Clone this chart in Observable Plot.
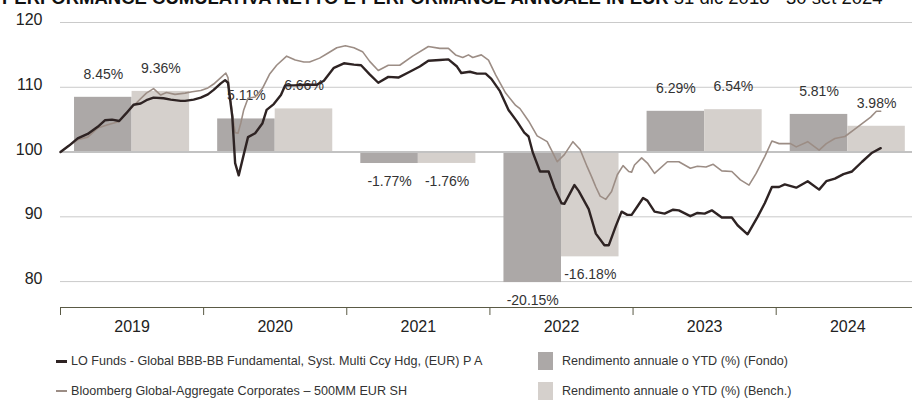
<!DOCTYPE html>
<html>
<head>
<meta charset="utf-8">
<script src="https://cdn.jsdelivr.net/npm/d3@7"></script>
<script src="https://cdn.jsdelivr.net/npm/@observablehq/plot@0.6"></script>
<style>
  html, body { margin: 0; padding: 0; background: #fff; }
  #wrap { position: relative; width: 912px; height: 406px; overflow: hidden; font-family: "Liberation Sans", Arial, sans-serif; color: #333; }
  #title { position: absolute; left: 2px; top: -11px; font-size: 18.5px; line-height: 18.5px; white-space: nowrap; color: #111; }
  #title b { font-weight: bold; }
  #chart { position: absolute; left: 0; top: 0; }
  .lg { position: absolute; font-size: 12.6px; line-height: 16px; white-space: nowrap; color: #333; }
  .sw { position: absolute; }
</style>
</head>
<body>
<div id="wrap">
  <div id="chart"></div>
  <div id="title"><b>PERFORMANCE CUMULATIVA NETTO E PERFORMANCE ANNUALE IN EUR</b> 31 dic 2018 - 30 set 2024</div>
  <div id="legend"></div>
</div>
<script>
// ---- data ----
const years = [2019, 2020, 2021, 2022, 2023, 2024];
const yearLabels = ["2019", "2020", "2021", "2022", "2023", "2024"];
const fundReturns = [8.45, 5.11, -1.77, -20.15, 6.29, 5.81];
const benchReturns = [9.36, 6.66, -1.76, -16.18, 6.54, 3.98];
const yTicks = [80, 90, 100, 110, 120];
const yTickLabels = ["80", "90", "100", "110", "120"];

const fundT = [2019.00,2019.06,2019.12,2019.19,2019.26,2019.31,2019.36,2019.41,2019.46,2019.51,2019.56,2019.60,2019.65,2019.72,2019.77,2019.84,2019.87,2019.93,2019.98,2020.03,2020.07,2020.12,2020.15,2020.17,2020.20,2020.22,2020.245,2020.28,2020.31,2020.36,2020.41,2020.44,2020.49,2020.54,2020.57,2020.63,2020.72,2020.79,2020.84,2020.91,2020.98,2021.05,2021.10,2021.16,2021.22,2021.29,2021.36,2021.44,2021.51,2021.57,2021.65,2021.71,2021.77,2021.80,2021.86,2021.91,2021.97,2022.01,2022.07,2022.13,2022.19,2022.24,2022.27,2022.30,2022.35,2022.41,2022.45,2022.50,2022.52,2022.59,2022.62,2022.69,2022.74,2022.80,2022.83,2022.88,2022.92,2022.96,2022.99,2023.03,2023.07,2023.10,2023.15,2023.22,2023.28,2023.32,2023.40,2023.45,2023.50,2023.55,2023.62,2023.69,2023.73,2023.80,2023.87,2023.92,2023.97,2024.02,2024.06,2024.14,2024.22,2024.30,2024.35,2024.41,2024.47,2024.53,2024.60,2024.67,2024.73];
const fundV = [100.0,101.0,102.1,102.8,103.9,104.9,105.0,104.8,106.0,107.3,107.5,108.0,108.4,108.3,108.1,107.9,107.9,108.1,108.4,108.9,109.6,110.6,111.1,110.7,105.5,98.3,96.4,99.6,102.3,102.9,104.4,106.5,107.4,108.8,110.3,110.3,110.4,110.4,111.0,113.0,113.7,113.5,113.4,112.0,110.7,111.6,111.5,112.4,113.2,114.1,114.2,114.3,113.2,112.2,112.4,112.1,112.1,111.3,109.4,106.5,104.7,103.0,102.4,99.9,97.0,97.0,94.5,92.1,92.0,94.9,94.0,91.2,87.4,85.6,85.6,88.6,90.8,90.3,90.3,91.6,92.9,92.5,90.8,90.5,91.1,91.0,90.1,90.6,90.5,91.0,89.9,89.9,88.7,87.3,90.0,92.1,94.6,94.6,95.0,94.5,95.5,94.2,95.5,95.9,96.6,97.0,98.5,99.9,100.6];

const benchT = [2019.00,2019.06,2019.12,2019.19,2019.26,2019.33,2019.41,2019.46,2019.54,2019.60,2019.65,2019.70,2019.74,2019.80,2019.87,2019.92,2019.98,2020.03,2020.07,2020.12,2020.155,2020.17,2020.20,2020.22,2020.24,2020.26,2020.28,2020.31,2020.36,2020.41,2020.46,2020.51,2020.58,2020.64,2020.70,2020.74,2020.81,2020.87,2020.93,2020.99,2021.05,2021.11,2021.16,2021.22,2021.29,2021.37,2021.46,2021.57,2021.65,2021.71,2021.76,2021.81,2021.85,2021.88,2021.94,2021.99,2022.04,2022.11,2022.18,2022.21,2022.27,2022.33,2022.40,2022.43,2022.47,2022.52,2022.58,2022.63,2022.68,2022.71,2022.74,2022.77,2022.81,2022.85,2022.89,2022.93,2022.97,2022.99,2023.01,2023.06,2023.10,2023.15,2023.24,2023.32,2023.40,2023.45,2023.51,2023.56,2023.62,2023.69,2023.75,2023.81,2023.86,2023.92,2023.97,2024.02,2024.10,2024.14,2024.22,2024.30,2024.35,2024.41,2024.48,2024.54,2024.60,2024.66,2024.70,2024.73];
const benchV = [100.0,101.0,101.9,102.3,103.7,104.2,104.7,106.0,107.8,109.1,109.8,108.8,109.2,108.9,109.1,109.3,109.5,109.9,110.5,111.5,112.2,111.5,106.0,103.0,102.9,104.5,106.5,108.3,108.5,109.8,112.0,113.4,114.8,114.2,113.9,113.9,114.5,115.3,116.1,116.4,116.1,115.5,114.0,112.6,113.4,113.4,114.8,116.3,116.0,116.0,115.0,114.6,115.0,114.6,115.0,114.2,111.9,109.1,107.2,106.7,104.8,102.5,101.6,100.3,98.5,99.6,101.6,100.4,97.7,96.2,94.6,93.2,92.7,93.9,96.5,97.9,97.0,96.9,98.0,99.1,98.3,96.7,98.5,98.5,97.5,97.8,97.7,98.1,97.1,97.0,95.7,94.9,96.7,99.3,101.7,101.3,101.3,100.8,101.6,100.3,101.3,102.1,102.4,103.4,104.4,105.4,106.3,106.3];

const fundName = "LO Funds - Global BBB-BB Fundamental, Syst. Multi Ccy Hdg, (EUR) P A";
const benchName = "Bloomberg Global-Aggregate Corporates \u2013 500MM EUR SH";
const fundBarName = "Rendimento annuale o YTD (%) (Fondo)";
const benchBarName = "Rendimento annuale o YTD (%) (Bench.)";

// ---- style / layout ----
const BASE = 100;
const FUND_BAR = "#aca8a7", BENCH_BAR = "#d5d0cc";
const FUND_LINE = "#2e2323", BENCH_LINE = "#9c8d85";
const GRID = "#cacaca", AXIS = "#5a5a45";
const yDomain = [76, 120];
const xDomain = [2019, 2019 + 852 / 143.14];
const PAD = 0.098, MID = 0.5;

const lineData = (T, V) => T.map((t, i) => ({t, v: V[i]}));
const bars = years.flatMap((yr, i) => [
  {x1: yr + PAD, x2: yr + MID, v: fundReturns[i], fill: FUND_BAR},
  {x1: yr + MID, x2: yr + 1 - PAD, v: benchReturns[i], fill: BENCH_BAR}
]);
const fmt = v => v.toFixed(2) + "%";

const chart = Plot.plot({
  width: 912,
  height: 340,
  marginLeft: 60,
  marginRight: 0,
  marginTop: 22,
  marginBottom: 33,
  style: {fontFamily: '"Liberation Sans", Arial, sans-serif', fontSize: "16px", color: "#333", background: "transparent", overflow: "visible"},
  x: {type: "linear", domain: xDomain, axis: null},
  y: {domain: yDomain, axis: null},
  marks: [
    Plot.gridY(yTicks.filter(d => d !== BASE), {stroke: GRID, strokeOpacity: 1, strokeWidth: 1}),
    Plot.rect(bars, {x1: "x1", x2: "x2", y1: () => BASE, y2: d => BASE + d.v, fill: "fill"}),
    Plot.ruleY([BASE], {stroke: "#c2c2c2", strokeWidth: 2}),
    Plot.text(bars.filter(d => d.v > 0), {x: d => (d.x1 + d.x2) / 2, y: d => BASE + d.v, text: d => fmt(d.v), dy: -23, fontSize: 14, fill: "#333"}),
    Plot.text(bars.filter(d => d.v < 0), {x: d => (d.x1 + d.x2) / 2, y: d => BASE + d.v, text: d => fmt(d.v), dy: 18, fontSize: 14, fill: "#333"}),
    Plot.line(lineData(benchT, benchV), {x: "t", y: "v", stroke: BENCH_LINE, strokeWidth: 1.6}),
    Plot.line(lineData(fundT, fundV), {x: "t", y: "v", stroke: FUND_LINE, strokeWidth: 2.4}),
    Plot.ruleY([yDomain[0]], {stroke: AXIS, strokeWidth: 1.2}),
    Plot.axisX({ticks: years, tickSize: 8, stroke: AXIS, tickFormat: () => "", label: null}),
    Plot.axisX({ticks: years.map(y => y + 0.5), tickSize: 0, tickPadding: 13, fontSize: 16, fill: "#222", label: null,
      tickFormat: d => yearLabels[years.indexOf(Math.floor(d))]}),
    Plot.axisY({ticks: yTicks, tickSize: 0, tickPadding: 18, fontSize: 16, fill: "#222", dy: -2.5, label: null,
      tickFormat: d => yTickLabels[yTicks.indexOf(d)]})
  ]
});
document.getElementById("chart").appendChild(chart);

// ---- legend ----
const lg = document.getElementById("legend");
function add(html) { lg.insertAdjacentHTML("beforeend", html); }
const row1 = 361, row2 = 391;
add(`<div class="sw" style="left:56px;top:${row1 - 1.5}px;width:11px;height:3px;background:${FUND_LINE}"></div>`);
add(`<div class="lg" style="left:71px;top:${row1 - 8}px">${fundName}</div>`);
add(`<div class="sw" style="left:56px;top:${row2 - 1}px;width:11px;height:2px;background:${BENCH_LINE}"></div>`);
add(`<div class="lg" style="left:71px;top:${row2 - 8}px">${benchName}</div>`);
add(`<div class="sw" style="left:538px;top:${row1 - 9}px;width:15px;height:18px;background:${FUND_BAR}"></div>`);
add(`<div class="lg" style="left:562px;top:${row1 - 8}px">${fundBarName}</div>`);
add(`<div class="sw" style="left:538px;top:${row2 - 9}px;width:15px;height:18px;background:${BENCH_BAR}"></div>`);
add(`<div class="lg" style="left:562px;top:${row2 - 8}px">${benchBarName}</div>`);
</script>
</body>
</html>
